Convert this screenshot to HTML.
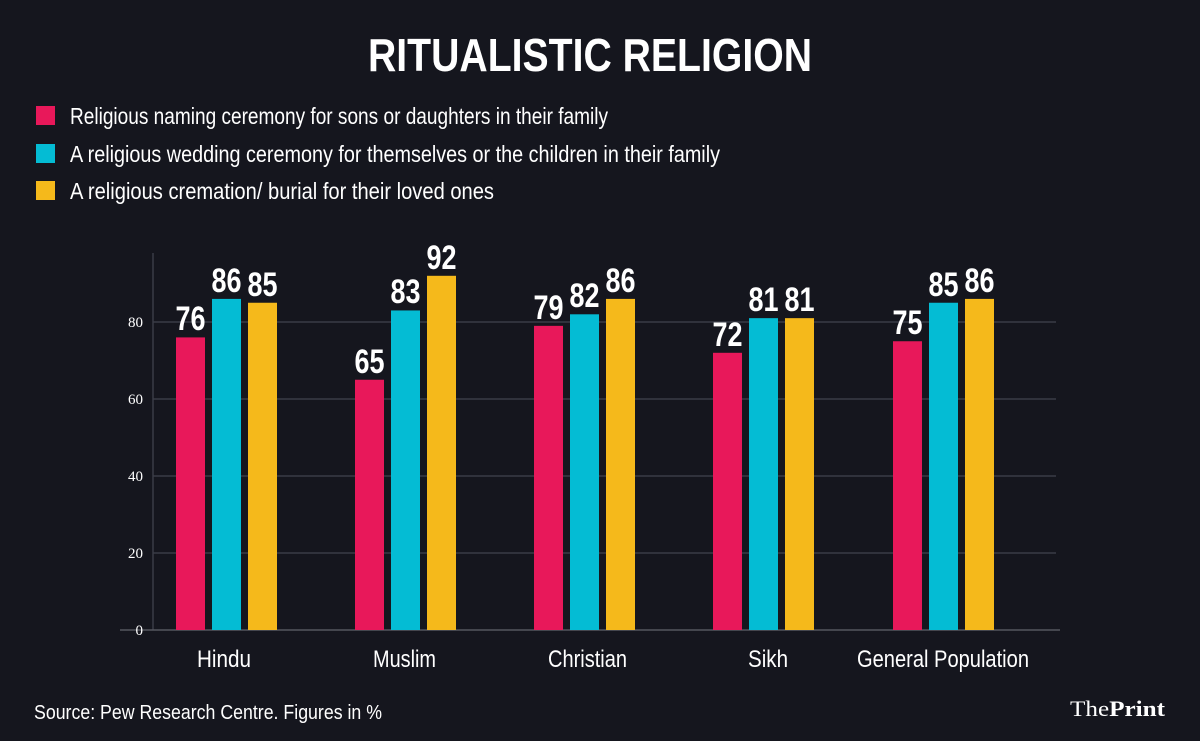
<!DOCTYPE html>
<html><head><meta charset="utf-8"><style>
html,body{margin:0;padding:0;background:#15161e;}
svg{display:block}
text{font-family:"Liberation Sans Narrow","Liberation Sans",sans-serif;fill:#fff}
.n{font-size:34px;font-weight:bold;text-anchor:middle}
.s{font-family:"Liberation Serif",serif}
</style></head><body>
<svg width="1200" height="741" viewBox="0 0 1200 741" xmlns="http://www.w3.org/2000/svg">
<rect width="1200" height="741" fill="#15161e"/>
<text x="590" y="71" font-size="46" font-weight="bold" text-anchor="middle" textLength="444" lengthAdjust="spacingAndGlyphs">RITUALISTIC RELIGION</text>
<rect x="36" y="106" width="19" height="19" fill="#e8185a"/>
<rect x="36" y="144" width="19" height="19" fill="#04bcd4"/>
<rect x="36" y="181" width="19" height="19" fill="#f5b91b"/>
<text x="70" y="124" font-size="23" textLength="538" lengthAdjust="spacingAndGlyphs">Religious naming ceremony for sons or daughters in their family</text>
<text x="70" y="162" font-size="23" textLength="650" lengthAdjust="spacingAndGlyphs">A religious wedding ceremony for themselves or the children in their family</text>
<text x="70" y="199" font-size="23" textLength="424" lengthAdjust="spacingAndGlyphs">A religious cremation/ burial for their loved ones</text>
<g stroke="#3a3c46" stroke-width="1.5">
<line x1="153" y1="253" x2="153" y2="630"/>
<line x1="153" y1="322" x2="1056" y2="322"/>
<line x1="153" y1="399" x2="1056" y2="399"/>
<line x1="153" y1="476" x2="1056" y2="476"/>
<line x1="153" y1="553" x2="1056" y2="553"/>
<line x1="120" y1="630" x2="1060" y2="630" stroke="#55565e"/>
</g>
<g font-size="15" text-anchor="end">
<text class="s" x="143" y="327">80</text>
<text class="s" x="143" y="404">60</text>
<text class="s" x="143" y="481">40</text>
<text class="s" x="143" y="558">20</text>
<text class="s" x="143" y="635">0</text>
</g>
<g>
<rect x="176" y="337.4" width="29" height="292.6" fill="#e8185a"/>
<rect x="212" y="298.9" width="29" height="331.1" fill="#04bcd4"/>
<rect x="248" y="302.75" width="29" height="327.25" fill="#f5b91b"/>
<rect x="355" y="379.75" width="29" height="250.25" fill="#e8185a"/>
<rect x="391" y="310.45" width="29" height="319.55" fill="#04bcd4"/>
<rect x="427" y="275.8" width="29" height="354.2" fill="#f5b91b"/>
<rect x="534" y="325.85" width="29" height="304.15" fill="#e8185a"/>
<rect x="570" y="314.3" width="29" height="315.7" fill="#04bcd4"/>
<rect x="606" y="298.9" width="29" height="331.1" fill="#f5b91b"/>
<rect x="713" y="352.8" width="29" height="277.2" fill="#e8185a"/>
<rect x="749" y="318.15" width="29" height="311.85" fill="#04bcd4"/>
<rect x="785" y="318.15" width="29" height="311.85" fill="#f5b91b"/>
<rect x="893" y="341.25" width="29" height="288.75" fill="#e8185a"/>
<rect x="929" y="302.75" width="29" height="327.25" fill="#04bcd4"/>
<rect x="965" y="298.9" width="29" height="331.1" fill="#f5b91b"/>
</g>
<g>
<text class="n" x="190.5" y="330" textLength="30" lengthAdjust="spacingAndGlyphs">76</text>
<text class="n" x="226.5" y="292" textLength="30" lengthAdjust="spacingAndGlyphs">86</text>
<text class="n" x="262.5" y="296" textLength="30" lengthAdjust="spacingAndGlyphs">85</text>
<text class="n" x="369.5" y="373" textLength="30" lengthAdjust="spacingAndGlyphs">65</text>
<text class="n" x="405.5" y="303" textLength="30" lengthAdjust="spacingAndGlyphs">83</text>
<text class="n" x="441.5" y="269" textLength="30" lengthAdjust="spacingAndGlyphs">92</text>
<text class="n" x="548.5" y="319" textLength="30" lengthAdjust="spacingAndGlyphs">79</text>
<text class="n" x="584.5" y="307" textLength="30" lengthAdjust="spacingAndGlyphs">82</text>
<text class="n" x="620.5" y="292" textLength="30" lengthAdjust="spacingAndGlyphs">86</text>
<text class="n" x="727.5" y="346" textLength="30" lengthAdjust="spacingAndGlyphs">72</text>
<text class="n" x="763.5" y="311" textLength="30" lengthAdjust="spacingAndGlyphs">81</text>
<text class="n" x="799.5" y="311" textLength="30" lengthAdjust="spacingAndGlyphs">81</text>
<text class="n" x="907.5" y="334" textLength="30" lengthAdjust="spacingAndGlyphs">75</text>
<text class="n" x="943.5" y="296" textLength="30" lengthAdjust="spacingAndGlyphs">85</text>
<text class="n" x="979.5" y="292" textLength="30" lengthAdjust="spacingAndGlyphs">86</text>
</g>
<g font-size="24">
<text x="197" y="667" textLength="54" lengthAdjust="spacingAndGlyphs">Hindu</text>
<text x="373" y="667" textLength="63" lengthAdjust="spacingAndGlyphs">Muslim</text>
<text x="548" y="667" textLength="79" lengthAdjust="spacingAndGlyphs">Christian</text>
<text x="748" y="667" textLength="40" lengthAdjust="spacingAndGlyphs">Sikh</text>
<text x="857" y="667" textLength="172" lengthAdjust="spacingAndGlyphs">General Population</text>
</g>
<text x="34" y="719" font-size="20" textLength="348" lengthAdjust="spacingAndGlyphs">Source: Pew Research Centre.  Figures in %</text>
<text class="s" x="1070" y="716" font-size="22" textLength="95" lengthAdjust="spacingAndGlyphs">The<tspan font-weight="bold">Print</tspan></text>
</svg>
</body></html>
